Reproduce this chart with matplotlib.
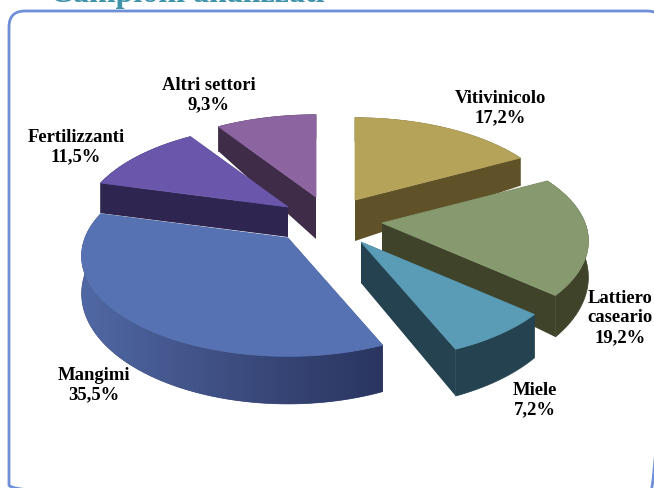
import numpy as np
import matplotlib
matplotlib.use("Agg")
import matplotlib.pyplot as plt
from matplotlib.colors import LinearSegmentedColormap
from matplotlib.patches import Polygon, FancyBboxPatch

labels = ["Vitivinicolo\n17,2%", "Lattiero\ncaseario\n19,2%", "Miele\n7,2%",
          "Mangimi\n35,5%", "Fertilizzanti\n11,5%", "Altri settori\n9,3%"]
values = [17.2, 19.2, 7.2, 35.5, 11.5, 9.3]
top_colors = ["#b5a35a", "#87996f", "#5a9bb5", "#5672b2", "#6a57ab", "#8b64a0"]
side_colors = ["#5f5128", "#3e4329", "#254250", "#3a4a80", "#2e2650", "#3e2c48"]

# explode offsets of each slice tip from the pie centre, pixels
explode_x = [30, 57, 36, -37, -37, -9]
explode_y = [-20, 3, 22, 18, -13, -23]
tip_depth = [41, 30, 41, 40, 30, 42]
label_x = [500, 620, 535, 94, 76, 209]
label_y = [108, 318, 400, 385, 147, 95]
draw_order = [5, 0, 4, 1, 3, 2]

cx, cy = 325, 220
a, b, persp = 203, 97, 0.18

rim_cmap = LinearSegmentedColormap.from_list("rim", ["#5068a4", "#3d4d80", "#2a3560"])


def project(theta):
    sx = np.sin(theta)
    sy = np.cos(theta)
    return a * sx / (1 + persp * sy), -b * sy / (1 + persp * sy)


fig = plt.figure(figsize=(6.54, 4.88), dpi=100)
ax = fig.add_axes([0, 0, 1, 1])
ax.set_xlim(0, 654)
ax.set_ylim(488, 0)
ax.axis("off")

ax.text(50, 2, "Campioni analizzati", fontsize=23, fontweight="bold", family="Liberation Serif",
        color="#3f93ab", ha="left", va="baseline")
# panel runs past the right and bottom edges of the picture
ax.add_patch(FancyBboxPatch((9, 11), 654, 490, boxstyle="round,pad=0,rounding_size=16",
                            fc="none", ec="#6f8fd8", lw=2))

edges = np.cumsum([0] + values) / sum(values) * 2 * np.pi
for n, i in enumerate(draw_order):
    tx, ty = cx + explode_x[i], cy + explode_y[i]
    th = np.linspace(edges[i], edges[i + 1], 80)
    px, py = project(th)
    px, py = px + tx, py + ty
    depth = 25 + 0.1 * (py - 130)
    z = 2 + n

    # cut faces
    ax.add_patch(Polygon([(tx, ty), (px[0], py[0]), (px[0], py[0] + depth[0]), (tx, ty + tip_depth[i])],
                         fc=side_colors[i], ec="none", zorder=z))
    ax.add_patch(Polygon([(tx, ty), (px[-1], py[-1]), (px[-1], py[-1] + depth[-1]), (tx, ty + tip_depth[i])],
                         fc=side_colors[i], ec="none", zorder=z))
    # rim
    rim = np.vstack([np.column_stack([px, py]), np.column_stack([px, py + depth])[::-1]])
    rim_patch = Polygon(rim, fc=side_colors[i], ec=side_colors[i], lw=0.5, zorder=z)
    ax.add_patch(rim_patch)
    if i == 3:
        # Mangimi rim goes dark from left to right
        grad = ax.imshow(np.linspace(0, 1, 256).reshape(1, -1), cmap=rim_cmap, aspect="auto",
                         extent=(px.min(), px[0], py.max() + 60, py.min()), zorder=z)
        grad.set_clip_path(rim_patch)
    # top
    ax.add_patch(Polygon(np.vstack([[tx, ty], np.column_stack([px, py])]), fc=top_colors[i], ec=top_colors[i],
                         lw=0.6, zorder=z + 0.5))

ax.set_xlim(0, 654)
ax.set_ylim(488, 0)

for i in range(len(labels)):
    ax.text(label_x[i], label_y[i], labels[i], fontsize=13.4, fontweight="bold", family="Liberation Serif",
            color="black", ha="center", va="center", linespacing=1.2, zorder=20)

plt.savefig("out.png", dpi=100)
plt.close()
